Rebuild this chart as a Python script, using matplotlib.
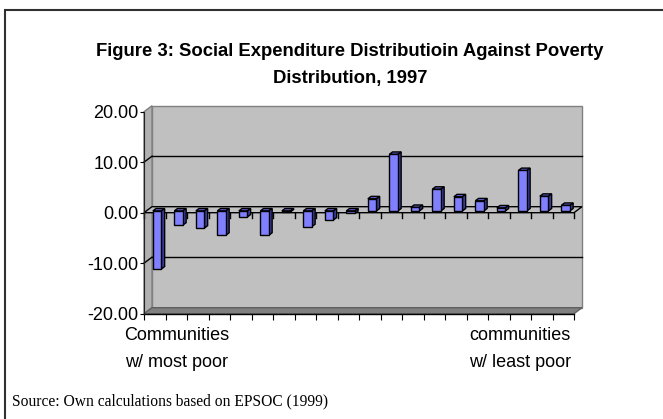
import matplotlib
matplotlib.use("Agg")
import matplotlib.pyplot as plt
from matplotlib.patches import Polygon, Rectangle
from matplotlib.ticker import FuncFormatter
import numpy as np

# values, communities ordered from most poor to least poor
values = [-11.5, -2.8, -3.4, -4.8, -1.2, -4.8, -0.2, -3.1, -1.8, -0.5,
          2.4, 11.2, 0.7, 4.3, 2.8, 2.0, 0.6, 8.0, 2.9, 1.1]
y_ticks = [-20, -10, 0, 10, 20]
end_labels = ["Communities\nw/ most poor", "communities\nw/ least poor"]
end_label_pos = [1.5, 17.5]
title = "Figure 3: Social Expenditure Distributioin Against Poverty\nDistribution, 1997"
source = "Source: Own calculations based on EPSOC (1999)"

W, H = 663, 419
DX, DY = 0.372, 1.19      # 3d depth offset in data units
T0, T1 = 0.3, 0.7         # bar depth slot
BW = 0.4

plt.rcParams['font.family'] = ['Liberation Sans', 'DejaVu Sans']

fig = plt.figure(figsize=(W / 100, H / 100), dpi=100)
ax = fig.add_axes([144 / W, 1 - 313.7 / H, 430 / W, 202 / H])
ax.set_facecolor('none')
n = len(values)
ax.set_xlim(0, n)
ax.set_ylim(y_ticks[0], y_ticks[-1])
ymin, ymax = y_ticks[0], y_ticks[-1]

# walls
ax.add_patch(Rectangle((DX, ymin + DY), n, ymax - ymin, fc='#c0c0c0',
                       ec='#808080', lw=1, clip_on=False, zorder=0))
ax.add_patch(Polygon([(0, ymin), (0, ymax), (DX, ymax + DY), (DX, ymin + DY)],
                     fc='#b0b0b0', ec='#808080', lw=1, clip_on=False, zorder=0))
ax.add_patch(Polygon([(0, ymin), (n, ymin), (n + DX, ymin + DY), (DX, ymin + DY)],
                     fc='#808080', ec='#606060', lw=1, clip_on=False, zorder=0))

# gridlines on back and side wall
for v in y_ticks[1:-1]:
    if v == 0:
        continue
    ax.plot([DX, n + DX], [v + DY, v + DY], color='black', lw=1, zorder=1,
            clip_on=False)
    ax.plot([0, DX], [v, v + DY], color='black', lw=1, zorder=1, clip_on=False)

# zero plane
ax.add_patch(Polygon([(0, 0), (n, 0), (n + DX, DY), (DX, DY)],
                     fc='#c0c0c0', ec='black', lw=1, clip_on=False, zorder=1))
for k in range(n + 1):
    ax.plot([k, k], [0, -1.0], color='black', lw=1, zorder=1, clip_on=False)

# bars
x = np.arange(n) + (1 - BW) / 2 + T0 * DX
ax.bar(x, values, width=BW, bottom=T0 * DY, align='edge', color='#8080ff',
       edgecolor='black', lw=1, zorder=3)
dd = T1 - T0
for xl, v in zip(x, values):
    xr = xl + BW
    top = max(v, 0) + T0 * DY
    bot = min(v, 0) + T0 * DY
    ax.add_patch(Polygon([(xl, top), (xr, top), (xr + dd * DX, top + dd * DY),
                          (xl + dd * DX, top + dd * DY)],
                         fc='#6060d0', ec='black', lw=1, zorder=2))
    ax.add_patch(Polygon([(xr, bot), (xr, top), (xr + dd * DX, top + dd * DY),
                          (xr + dd * DX, bot + dd * DY)],
                         fc='#3c3ca0', ec='black', lw=1, zorder=2))

# axes
for s in ['top', 'right', 'bottom']:
    ax.spines[s].set_visible(False)
ax.spines['left'].set_color('#202020')
ax.set_yticks(y_ticks)
ax.yaxis.set_major_formatter(FuncFormatter(lambda v, _: f"{v:.2f}"))
ax.set_xticks(range(n + 1))
ax.set_xticklabels([])
ax.tick_params(axis='y', length=3, pad=1, labelsize=13)
ax.tick_params(axis='x', length=4, color='black')
ax.plot([0, n], [ymin, ymin], color='black', lw=1, clip_on=False, zorder=2)

for xp, lab in zip(end_label_pos, end_labels):
    ax.text(xp, -0.175, lab, transform=ax.get_xaxis_transform(), ha='center',
            va='center', fontsize=13, linespacing=1.7)

fig.text(350 / W, 1 - 65 / H, title, ha='center', va='center',
         fontsize=13.3, fontweight='bold', linespacing=1.7)
fig.text(12 / W, 1 - 401 / H, source, ha='left', va='center', fontsize=11.2,
         family=['Liberation Serif', 'DejaVu Serif'])

fig.add_artist(Rectangle((5 / W, -0.1), 1.2, 1.1 - 10 / H,
                         transform=fig.transFigure, fill=False,
                         ec='#303030', lw=1.5))

fig.savefig('out.png', dpi=100)
